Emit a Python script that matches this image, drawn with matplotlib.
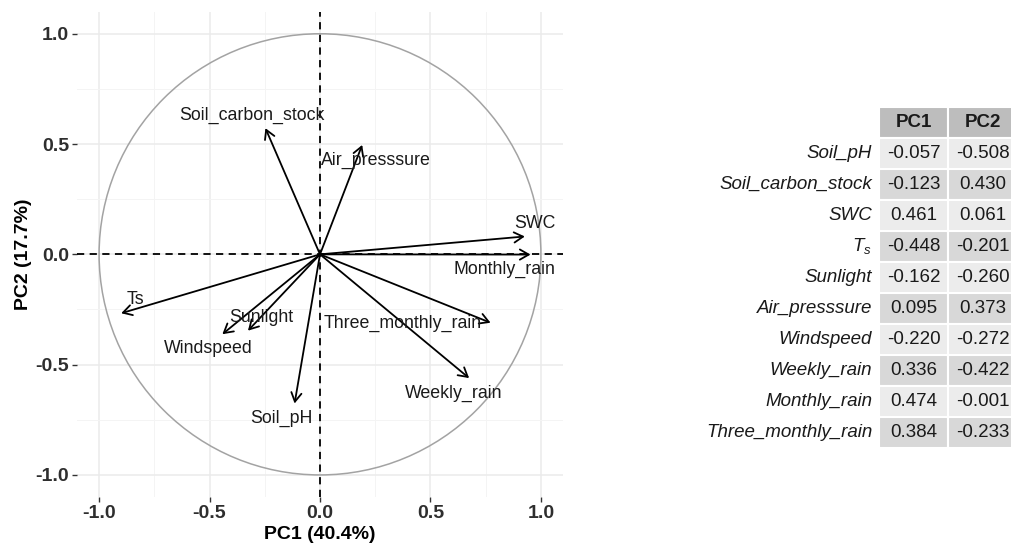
import matplotlib
matplotlib.use("Agg")
import matplotlib.pyplot as plt
from matplotlib.patches import Circle, Rectangle

plt.rcParams['font.family'] = ['Liberation Sans', 'DejaVu Sans']
plt.rcParams['mathtext.fontset'] = 'custom'
plt.rcParams['mathtext.rm'] = 'Liberation Sans'
plt.rcParams['mathtext.it'] = 'Liberation Sans:italic'

# variables
variables = ["Soil_pH", "Soil_carbon_stock", "SWC", "Ts", "Sunlight",
             "Air_presssure", "Windspeed", "Weekly_rain", "Monthly_rain",
             "Three_monthly_rain"]
# arrow tips
pc1_coord = [-0.115, -0.247, 0.927, -0.900, -0.326, 0.191, -0.442, 0.675, 0.953, 0.772]
pc2_coord = [-0.676, 0.572, 0.081, -0.267, -0.346, 0.496, -0.362, -0.561, -0.001, -0.310]
# loadings table
table_rows = ["Soil_pH", "Soil_carbon_stock", "SWC", r"$\mathit{T}_{s}$", "Sunlight",
              "Air_presssure", "Windspeed", "Weekly_rain", "Monthly_rain",
              "Three_monthly_rain"]
pc1_load = ["-0.057", "-0.123", "0.461", "-0.448", "-0.162", "0.095", "-0.220", "0.336", "0.474", "0.384"]
pc2_load = ["-0.508", "0.430", "0.061", "-0.201", "-0.260", "0.373", "-0.272", "-0.422", "-0.001", "-0.233"]
col_names = ["PC1", "PC2"]

# label offsets from arrow tips (layout only)
label_offset = {
    "Soil_pH": (-0.06, -0.068), "Soil_carbon_stock": (-0.061, 0.06),
    "SWC": (0.045, 0.059), "Ts": (0.065, 0.062), "Sunlight": (0.062, 0.058),
    "Air_presssure": (0.06, -0.068), "Windspeed": (-0.063, -0.064),
    "Weekly_rain": (-0.07, -0.07), "Monthly_rain": (-0.118, -0.067),
    "Three_monthly_rain": (-0.396, -0.005),
}

W, H = 1012, 545
fig = plt.figure(figsize=(W / 100, H / 100), dpi=100)
ax = fig.add_axes([77 / W, 1 - 497 / H, 486 / W, 485.3 / H])
ax.set_xlim(-1.1, 1.1)
ax.set_ylim(-1.1, 1.1)
for s in ax.spines.values():
    s.set_visible(False)
ticks = [-1.0, -0.5, 0.0, 0.5, 1.0]
ax.set_xticks(ticks)
ax.set_yticks(ticks)
ax.set_xticks([-0.75, -0.25, 0.25, 0.75], minor=True)
ax.set_yticks([-0.75, -0.25, 0.25, 0.75], minor=True)
ax.set_xticklabels([f"{t:.1f}" for t in ticks])
ax.set_yticklabels([f"{t:.1f}" for t in ticks])
ax.tick_params(which='major', length=3.5, width=1, color='#333333', pad=2,
               labelsize=14, labelcolor='#2e2e2e')
ax.tick_params(which='minor', length=0)
for lab in ax.get_xticklabels() + ax.get_yticklabels():
    lab.set_fontweight('bold')
ax.grid(which='major', color='#ebebeb', lw=1.1)
ax.grid(which='minor', color='#f4f4f4', lw=0.7)
ax.set_axisbelow(True)

ax.add_patch(Circle((0, 0), 1, fill=False, edgecolor='#a3a3a3', lw=1.1, zorder=2))
ax.axhline(0, color='black', ls='--', lw=1.3, dashes=(4, 3), zorder=3)
ax.axvline(0, color='black', ls='--', lw=1.3, dashes=(4, 3), zorder=3)

for name, x, y in zip(variables, pc1_coord, pc2_coord):
    ax.annotate('', xy=(x, y), xytext=(0, 0),
                arrowprops=dict(arrowstyle='->,head_length=0.4,head_width=0.23',
                                lw=1.3, color='black', shrinkA=0, shrinkB=0,
                                mutation_scale=16), zorder=4)
    dx, dy = label_offset[name]
    ax.text(x + dx, y + dy, name, ha='center', va='center', fontsize=12.8,
            color='#1a1a1a', zorder=5)

ax.set_xlabel("PC1 (40.4%)", fontsize=14, fontweight='bold', labelpad=3)
ax.set_ylabel("PC2 (17.7%)", fontsize=14, fontweight='bold', labelpad=2.5)

# table
tax = fig.add_axes([879 / W, 1 - 448.3 / H, 138 / W, 341.6 / H])
tax.set_xlim(0, 2)
tax.set_ylim(len(table_rows) + 1, 0)
tax.axis('off')
for j, c in enumerate(col_names):
    tax.add_patch(Rectangle((j, 0), 1, 1, facecolor='#bdbdbd', edgecolor='white', lw=1.5))
    tax.text(j + 0.5, 0.5, c, ha='center', va='center', fontsize=13.5,
             fontweight='bold', color='#1a1a1a')
for i, (rname, v1, v2) in enumerate(zip(table_rows, pc1_load, pc2_load)):
    r = i + 1
    fc = '#ececec' if i % 2 == 0 else '#d8d8d8'
    for j, v in enumerate([v1, v2]):
        tax.add_patch(Rectangle((j, r), 1, 1, facecolor=fc, edgecolor='white', lw=1.5))
        tax.text(j + 0.5, r + 0.5, v, ha='center', va='center', fontsize=13.5,
                 color='#1a1a1a')
    tax.text(-0.1, r + 0.5, rname, ha='right', va='center', fontsize=13.5,
             style='italic', color='#1a1a1a', clip_on=False)

fig.savefig("out.png", dpi=100)
